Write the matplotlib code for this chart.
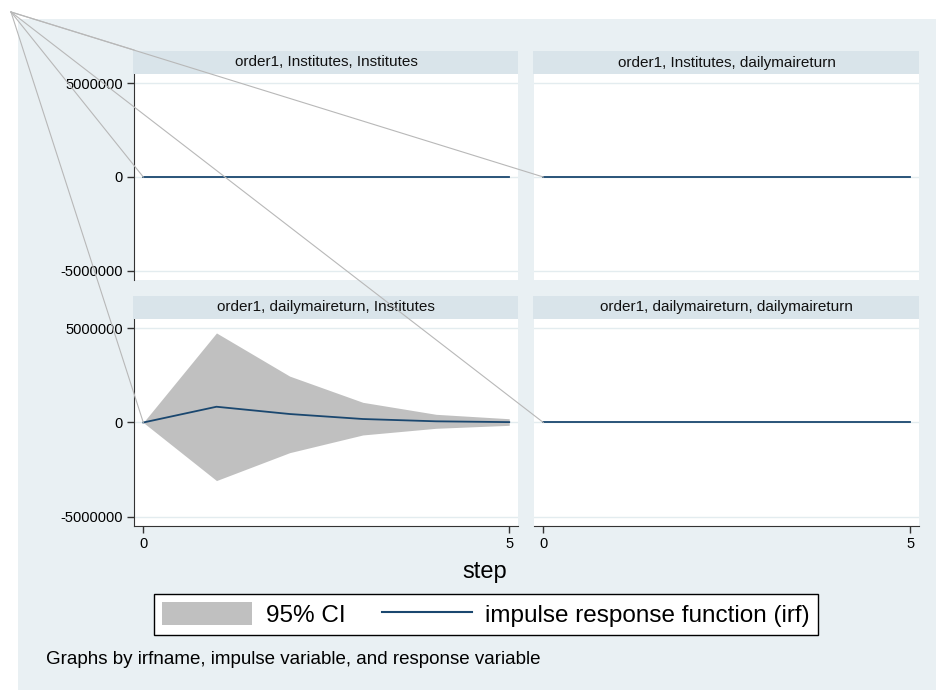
import numpy as np
import matplotlib.pyplot as plt
from matplotlib.patches import Rectangle, Patch
from matplotlib.lines import Line2D
from matplotlib.ticker import StrMethodFormatter

# IRF steps and estimates
steps = [0, 1, 2, 3, 4, 5]
titles = ['order1, Institutes, Institutes',
          'order1, Institutes, dailymaireturn',
          'order1, dailymaireturn, Institutes',
          'order1, dailymaireturn, dailymaireturn']
irf_inst_inst = [0, 0, 0, 0, 0, 0]
irf_inst_mai = [0, 0, 0, 0, 0, 0]
irf_mai_inst = [0, 836000, 450000, 185000, 63000, 20000]
irf_mai_mai = [0, 0, 0, 0, 0, 0]
lo_mai_inst = [0, -3080000, -1600000, -661000, -307000, -150000]
hi_mai_inst = [0, 4750000, 2460000, 1070000, 434000, 200000]
irfs = [irf_inst_inst, irf_inst_mai, irf_mai_inst, irf_mai_mai]
los = [irf_inst_inst, irf_inst_mai, lo_mai_inst, irf_mai_mai]
his = [irf_inst_inst, irf_inst_mai, hi_mai_inst, irf_mai_mai]
yticks = [-5000000, 0, 5000000]
xticks = [0, 5]

plt.rcParams['font.family'] = ['Liberation Sans', 'DejaVu Sans']
plt.rcParams['axes.unicode_minus'] = False

W, H = 937, 690
fig = plt.figure(figsize=(W/100, H/100), dpi=100)
fig.patch.set_facecolor('white')

bg = '#E9F0F3'
strip = '#D9E4EA'
navy = '#1A476F'

def frac(x0, y0, x1, y1):
    return [x0/W, 1-y1/H, (x1-x0)/W, (y1-y0)/H]

# graph region
fig.add_artist(Rectangle((18/W, 0), 1-18/W, 1-19/H, transform=fig.transFigure,
                         facecolor=bg, edgecolor='none', zorder=0))

cols = [(134, 518), (534, 919)]
rows = [(74, 280), (319, 526)]
axes = []
for i in range(4):
    r, c = divmod(i, 2)
    x0, x1 = cols[c]
    y0, y1 = rows[r]
    ax = fig.add_axes(frac(x0, y0, x1, y1))
    axes.append(ax)
    # strip with panel title
    fig.add_artist(Rectangle((x0/W - 1/W, 1-y0/H), (x1-x0+1)/W, 23/H,
                             transform=fig.transFigure, facecolor=strip,
                             edgecolor='none', zorder=1))
    fig.text((x0+x1)/2/W, 1-(y0-11.5)/H, titles[i], ha='center', va='center',
             fontsize=11, color='#111111')

    for yt in yticks:
        ax.axhline(yt, color='#E3ECEF', lw=1, zorder=1)
    ax.fill_between(steps, los[i], his[i], color='#C0C0C0', lw=0, zorder=2)
    ax.plot(steps, irfs[i], color=navy, lw=1.3, zorder=3)

    ax.set_xlim(-0.127, 5.12)
    ax.set_ylim(-5490000, 5490000)
    for s in ['top', 'right']:
        ax.spines[s].set_visible(False)
    ax.spines['left'].set_color('#333333')
    ax.spines['bottom'].set_color('#333333')
    ax.tick_params(colors='#333333', labelcolor='black', length=5, width=1,
                   labelsize=10.5, pad=3)
    ax.set_yticks(yticks)
    ax.yaxis.set_major_formatter(StrMethodFormatter('{x:.0f}'))
    ax.set_xticks(xticks)
    if c == 1:
        ax.spines['left'].set_visible(False)
        ax.tick_params(axis='y', left=False, labelleft=False)
    if r == 0:
        ax.spines['bottom'].set_visible(False)
        ax.tick_params(axis='x', bottom=False, labelbottom=False)

fig.text(485/W, 1-572/H, 'step', ha='center', va='center', fontsize=17)

# stray grey lines from the top left corner
ox, oy = 11/W, 1-12/H
targets = [(134/W, 1-50/H)]
for ax in [axes[1], axes[0], axes[3], axes[2]]:
    px, py = fig.transFigure.inverted().transform(ax.transData.transform((0, 0)))
    targets.append((px, py))
for tx, ty in targets:
    fig.add_artist(Line2D([ox, tx], [oy, ty], transform=fig.transFigure,
                          color='#B8B8B8', lw=0.8, zorder=5))

handles = [Patch(facecolor='#C0C0C0', edgecolor='none', label='95% CI'),
           Line2D([], [], color=navy, lw=1.5, label='impulse response function (irf)')]
leg = fig.legend(handles=handles, loc='center', bbox_to_anchor=(486/W, 1-614.5/H),
                 ncol=2, fontsize=17.5, frameon=True, fancybox=False, framealpha=1,
                 handlelength=3.7, handleheight=1.05, handletextpad=0.55,
                 columnspacing=1.5, borderpad=0.33)
leg.get_frame().set_edgecolor('black')
leg.get_frame().set_linewidth(1)

fig.text(46/W, 1-659/H, 'Graphs by irfname, impulse variable, and response variable',
         ha='left', va='center', fontsize=13.5)

fig.savefig('out.png', dpi=100)
